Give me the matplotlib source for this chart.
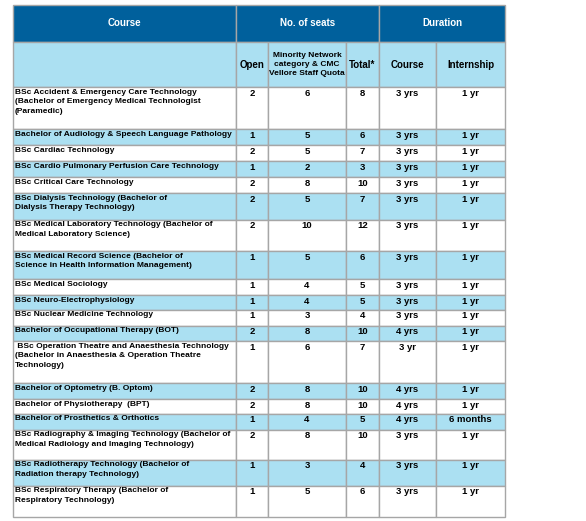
import matplotlib.pyplot as plt
from matplotlib.patches import Rectangle

courses = [
    "BSc Accident & Emergency Care Technology\n(Bachelor of Emergency Medical Technologist\n(Paramedic)",
    "Bachelor of Audiology & Speech Language Pathology",
    "BSc Cardiac Technology",
    "BSc Cardio Pulmonary Perfusion Care Technology",
    "BSc Critical Care Technology",
    "BSc Dialysis Technology (Bachelor of\nDialysis Therapy Technology)",
    "BSc Medical Laboratory Technology (Bachelor of\nMedical Laboratory Science)",
    "BSc Medical Record Science (Bachelor of\nScience in Health Information Management)",
    "BSc Medical Sociology",
    "BSc Neuro-Electrophysiology",
    "BSc Nuclear Medicine Technology",
    "Bachelor of Occupational Therapy (BOT)",
    " BSc Operation Theatre and Anaesthesia Technology\n(Bachelor in Anaesthesia & Operation Theatre\nTechnology)",
    "Bachelor of Optometry (B. Optom)",
    "Bachelor of Physiotherapy  (BPT)",
    "Bachelor of Prosthetics & Orthotics",
    "BSc Radiography & Imaging Technology (Bachelor of\nMedical Radiology and Imaging Technology)",
    "BSc Radiotherapy Technology (Bachelor of\nRadiation therapy Technology)",
    "BSc Respiratory Therapy (Bachelor of\nRespiratory Technology)",
]
open_seats = [2, 1, 2, 1, 2, 2, 2, 1, 1, 1, 1, 2, 1, 2, 2, 1, 2, 1, 1]
minority = [6, 5, 5, 2, 8, 5, 10, 5, 4, 4, 3, 8, 6, 8, 8, 4, 8, 3, 5]
total = [8, 6, 7, 3, 10, 7, 12, 6, 5, 5, 4, 10, 7, 10, 10, 5, 10, 4, 6]
course_dur = ["3 yrs", "3 yrs", "3 yrs", "3 yrs", "3 yrs", "3 yrs", "3 yrs", "3 yrs", "3 yrs", "3 yrs",
              "3 yrs", "4 yrs", "3 yr", "4 yrs", "4 yrs", "4 yrs", "3 yrs", "3 yrs", "3 yrs"]
internship = ["1 yr"] * 15 + ["6 months", "1 yr", "1 yr", "1 yr"]
shaded = [False, True, False, True, False, True, False, True, False, True,
          False, True, False, True, False, True, False, True, False]

# layout in pixels
col_x = [13, 236, 268, 346, 379, 436, 505]
row_y = [87, 129, 145, 161, 177, 193, 220, 251, 279, 295, 310, 326, 341, 383, 399, 414, 430, 460, 486, 517]
DARK = "#00609C"
LIGHT = "#ABE0F2"
GRID = "#A6A6A6"
FS = 6.0

fig = plt.figure(figsize=(5.86, 5.21), dpi=100)
ax = fig.add_axes([0, 0, 1, 1])
ax.set_xlim(0, 586)
ax.set_ylim(521, 0)
ax.axis("off")

def cell(x0, x1, y0, y1, color):
    ax.add_patch(Rectangle((x0, y0), x1 - x0, y1 - y0, facecolor=color, edgecolor=GRID, lw=1))

# header row
for x0, x1, label in [(col_x[0], col_x[1], "Course"), (col_x[1], col_x[4], "No. of seats"),
                      (col_x[4], col_x[6], "Duration")]:
    cell(x0, x1, 5, 42, DARK)
    ax.text((x0 + x1) / 2, 23.5, label, color="white", ha="center", va="center",
            fontsize=7.0, fontweight="bold", family="Liberation Sans")

subs = ["", "Open", "Minority Network\ncategory & CMC\nVellore Staff Quota", "Total*", "Course", "Internship"]
for i, label in enumerate(subs):
    cell(col_x[i], col_x[i + 1], 42, 87, LIGHT)
    fs = 6.0 if i == 2 else 7.0
    ax.text((col_x[i] + col_x[i + 1]) / 2, 64.5, label, ha="center", va="center",
            fontsize=fs, fontweight="bold", family="Liberation Sans", linespacing=1.45)

for r in range(len(courses)):
    y0, y1 = row_y[r], row_y[r + 1]
    color = LIGHT if shaded[r] else "white"
    vals = [courses[r], open_seats[r], minority[r], total[r], course_dur[r], internship[r]]
    for i, v in enumerate(vals):
        cell(col_x[i], col_x[i + 1], y0, y1, color)
        if i == 0:
            ax.text(col_x[0] + 2, y0 + 1.5, v, ha="left", va="top", fontsize=FS,
                    fontweight="bold", family="Liberation Sans", linespacing=1.55)
        else:
            ax.text((col_x[i] + col_x[i + 1]) / 2, y0 + 1.5, str(v), ha="center", va="top",
                    fontsize=6.8, fontweight="bold", family="Liberation Sans")

fig.savefig("out.png", dpi=100)
